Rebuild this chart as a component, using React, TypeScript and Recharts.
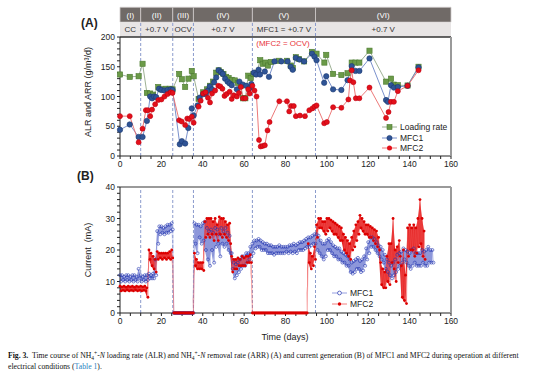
import {
  Area,
  ComposedChart,
  Line,
  ReferenceArea,
  ReferenceLine,
  XAxis,
  YAxis,
} from "recharts";

const INK = "#222222";
const FRAME = "#9a9a9a";
const DASH = "#8b9bcc";
const HEAD_DARK = "#706a67";
const HEAD_LIGHT = "#e8e5e5";

const LR_LINE = "#93a889";
const LR_FILL = "#6b9a48";
const LR_EDGE = "#4a7a2e";
const M1_LINE = "#6b84c6";
const M1_FILL = "#2f5496";
const M1_EDGE = "#1c3a72";
const M2_LINE = "#ea6a6a";
const M2_FILL = "#e3101a";
const B1_LINE = "#8a94dc";
const B1_EDGE = "#2436b0";
const B2_FILL = "#dc0000";

// operating phases
const PHASE_START = [0, 10, 25.5, 35.5, 64, 94.5];
const PHASE_END = [10, 25.5, 35.5, 64, 94.5, 160];
const PHASE_NAMES = ["(I)", "(II)", "(III)", "(IV)", "(V)", "(VI)"];
const PHASE_MODES = ["CC", "+0.7 V", "OCV", "+0.7 V", "MFC1 = +0.7 V", "+0.7 V"];
const SWITCH_DAYS = [10, 25.5, 35.5, 64, 94.5];

const X_TICKS = [
  0, 5, 10, 15, 20, 25, 30, 35, 40, 45, 50, 55, 60, 65, 70, 75, 80, 85, 90, 95,
  100, 105, 110, 115, 120, 125, 130, 135, 140, 145, 150, 155, 160,
];
const Y_TICKS_A = [
  0, 10, 20, 30, 40, 50, 60, 70, 80, 90, 100, 110, 120, 130, 140, 150, 160, 170,
  180, 190, 200,
];
const Y_TICKS_B = [
  0, 2, 4, 6, 8, 10, 12, 14, 16, 18, 20, 22, 24, 26, 28, 30, 32, 34, 36, 38, 40,
];

// (A) loading rate
const LR_DAYS = [
  0, 4.7, 9, 10.9, 13, 14.6, 16, 18.5, 20, 22, 24, 25.4, 28.6, 29.9, 31.5, 33.1,
  34.7, 35.6, 38, 40.2, 42, 43.5, 45, 46.5, 47.7, 48.8, 50, 51.3, 52.5, 54, 55.5,
  57, 58.5, 59.4, 60.6, 62, 63.2, 64.5, 66, 67.8, 69, 70.3, 71.5, 73, 76.7, 80.7,
  82.5, 83.5, 85, 86.5, 89, 92.8, 95, 98.8, 99.7, 103, 107, 110, 112, 113.8,
  115.7, 120.6, 128.6, 131, 132.4, 134.3, 139, 144.3,
];
const LR_VALUES = [
  137, 133, 134, 155, 106, 105, 103, 116, 112, 113, 113, 112, 138, 129, 116, 130,
  143, 134, 96, 107, 112, 118, 125, 140, 144, 141, 138, 133, 131, 128, 127, 123,
  118, 97, 97, 135, 131, 138, 140, 161, 155, 157, 152, 158, 160, 160, 152, 148,
  166, 163, 159, 175, 172, 157, 170, 138, 136, 139, 157, 157, 157, 177, 125, 130,
  120, 119, 118.5, 150,
];

// (A) MFC1 removal rate
const ARR1_DAYS = [
  0, 4.7, 9, 10.9, 13, 14.6, 15.5, 16.5, 17.5, 18.9, 20, 21.5, 23, 24.5, 25.4,
  28.9, 29.9, 31.5, 33, 34.7, 35.6, 37.5, 38.5, 40.2, 41.5, 42.5, 43.4, 44.5,
  45.5, 46.5, 47.7, 48.8, 49.7, 50.8, 52, 53, 54, 56.5, 57.7, 59.4, 61, 62.6,
  63.5, 64.7, 65.8, 67, 67.7, 70, 72, 74.7, 78, 81, 82.5, 83.5, 85, 86.8, 89,
  92.8, 94, 95, 98.7, 99.7, 103, 107, 110, 112, 113.8, 115.7, 120.6, 128.6,
  129.5, 131, 132.4, 134.3, 139, 144.3,
];
const ARR1_VALUES = [
  44, 53, 32, 32, 59, 100, 97, 100, 99, 113, 111, 110, 111, 112, 111, 19.7, 25,
  21, 47, 80, 68, 85, 98, 104, 104, 110, 117, 112, 124, 132, 144, 141, 138, 130,
  125, 122, 119, 112, 125, 120, 118, 114, 121, 140, 137, 145, 137, 142, 133, 159,
  159, 159, 150, 145, 165, 162, 159, 172, 167, 161, 123, 134, 112, 111, 127.5,
  151, 143, 143, 164, 94, 91, 119, 115, 116, 118, 149,
];

// (A) MFC2 removal rate
const ARR2_DAYS = [
  0, 4.7, 9, 10.9, 12.5, 13.5, 14.6, 15.5, 17, 18.5, 20, 21.5, 23, 24.5, 25.4,
  28.6, 29.8, 31.5, 32.5, 33.5, 34.7, 35.6, 38, 39, 40.2, 41.3, 42.5, 43.5, 44.5,
  46, 47.5, 48.5, 49.5, 50.5, 51.5, 53, 54, 55, 56.5, 57.5, 58.4, 59.4, 60.6, 62,
  62.7, 64, 65, 66, 67.2, 68, 69, 70, 71.3, 72.3, 77, 80.7, 81.8, 82.7, 84, 85,
  87, 89.4, 91.5, 93, 94, 95, 98.7, 100, 103, 107, 110.4, 111.2, 112, 112.8, 114,
  115.7, 120.6, 128.6, 129.8, 131, 132.4, 134.3, 139, 144.3,
];
const ARR2_VALUES = [
  67, 67, 23, 46, 77, 77, 67, 78, 87, 94, 95, 100, 104, 107, 106, 60, 58, 52, 63,
  62, 66, 56, 83, 93, 105, 107, 98, 90, 105, 110, 118, 117, 113, 101, 104, 108,
  96, 102, 100, 106, 116, 97, 97, 112, 105, 118, 110, 100, 27, 16, 17, 18, 43,
  57, 92, 92, 75, 84, 84, 67, 68, 67, 77, 80, 83, 85, 55, 57, 82, 81, 95, 127,
  144, 124, 97, 97, 115, 64, 74, 91, 91, 109, 118, 144,
];

// (B) daily current envelope (mA), day 0..151
const I1_LO = [
  10, 10.5, 10, 10.5, 10, 10.5, 10, 10.5, 10, 11, 10, 10.5, 10, 10.5, 11, 11, 11,
  12, 22, 25, 25.5, 25, 25.5, 25.5, 26, 26.5, 0, 0, 0, 0, 0, 0, 0, 0, 0, 0, 22,
  19, 24, 22, 23, 20, 17, 15, 20, 16, 21, 22, 18, 22, 21, 22, 20, 19, 14, 11, 12,
  13, 14, 15, 15, 16, 17, 18, 19, 20.5, 21, 21, 20, 20, 20, 19, 19, 19, 18.5, 19,
  19, 19, 19, 19, 19.5, 19, 19.5, 19, 19.5, 19, 20, 20, 20, 20.5, 21, 21, 21.5,
  22, 22, 20, 19, 18, 17, 18, 20, 20, 19, 18, 18, 17, 17, 16, 16, 15, 15, 13,
  12.5, 13, 14, 14, 13, 13.5, 15, 17, 19, 21, 21, 20, 19, 18, 17, 16, 14, 13, 12,
  11, 12, 13, 14, 15, 16, 17, 16, 15, 14, 15, 16, 15, 15, 15, 16, 15, 15, 16, 16,
  16,
];
const I1_HI = [
  12, 12, 11.5, 12, 12, 11.5, 12, 12, 11.5, 14, 12, 11.5, 12, 12, 12.5, 12, 12.5,
  17, 26, 27.5, 27.5, 27, 27.5, 28, 28, 28.5, 0, 0, 0, 0, 0, 0, 0, 0, 0, 0, 28.5,
  28, 28, 27.5, 28.5, 29, 27, 26, 26.5, 25.5, 27, 26.5, 25, 27, 26, 27, 25.5,
  24.5, 19, 16, 15.5, 16, 17, 18, 18, 19, 19, 21, 22, 23, 23, 23.5, 23, 22.5, 22,
  22, 21.5, 21.5, 21, 21, 21, 21.5, 21, 21, 21, 21, 21.5, 21.5, 22, 21.5, 22,
  22.5, 22.5, 23, 23.5, 24, 24, 24.5, 25, 25, 24.5, 23, 22, 22, 23, 23.5, 22.5,
  21.5, 21, 20.5, 20.5, 19.5, 19, 18.5, 18, 17, 16, 16.5, 17, 17.5, 16.5, 17, 18,
  20.5, 22.5, 24, 24, 23.5, 22.5, 21.5, 21, 20, 18.5, 17, 16, 15, 16, 17, 18.5,
  19, 19.5, 20.5, 20, 19.5, 19, 20, 20.5, 19, 19, 19, 20, 19.5, 20, 21, 20, 20,
];
const I2_LO = [
  7, 7.2, 7, 7.3, 7, 7.2, 7, 7.3, 7, 7.2, 7, 7.2, 7, 5, 17, 15, 14, 13, 17, 17.5,
  17, 17.5, 17, 17.5, 17, 17.5, 0, 0, 0, 0, 0, 0, 0, 0, 0, 0, 15, 14, 14, 14,
  13.5, 24, 25, 24, 25, 23, 25, 23, 25, 24, 25, 24, 23, 22, 13, 14, 14, 15, 15,
  15, 15, 16, 16, 16, 0, 0, 0, 0, 0, 0, 0, 0, 0, 0, 0, 0, 0, 0, 0, 0, 0, 0, 0, 0,
  0, 0, 0, 0, 0, 0, 0, 16, 14, 15, 17, 24, 27, 27, 26, 25, 26, 27, 26, 25, 25,
  24, 23, 23, 20, 19, 18, 17, 20, 21, 23, 25, 27, 26, 25, 25, 24, 24, 23, 22, 21,
  20, 9, 8, 8, 10, 9, 16, 14, 10, 16, 18, 5, 4, 3, 18, 20, 20, 18, 19, 21, 22,
  18, 17,
];
const I2_HI = [
  8.5, 8.3, 8.5, 8.2, 8.5, 8.3, 8.5, 8.2, 8.5, 8.3, 8.5, 8.3, 8.5, 8, 20, 19, 18,
  17, 19.5, 19, 19, 19, 19, 19, 19.5, 20, 0, 0, 0, 0, 0, 0, 0, 0, 0, 0, 19, 17,
  16, 16, 16, 29, 30, 30, 30, 29, 30, 28, 30.5, 30, 30, 29, 28, 28.5, 18, 17, 17,
  17.5, 17, 18, 17.5, 18, 18, 18.5, 0, 0, 0, 0, 0, 0, 0, 0, 0, 0, 0, 0, 0, 0, 0,
  0, 0, 0, 0, 0, 0, 0, 0, 0, 0, 0, 0, 22, 19, 18, 21, 28, 30, 30, 29, 29, 30, 30,
  29.5, 29, 28.5, 28, 27.5, 27, 25, 24, 23, 22, 24, 26, 28, 29, 31, 30, 29, 28,
  28, 27.5, 27, 26.5, 26, 24, 16, 14, 13, 18, 22, 22, 30, 20, 21, 23, 15, 20, 12,
  27, 28, 27, 28, 27, 30, 36, 30, 26,
];

type Pt = { day: number; v: number };

const pairUp = (days: number[], values: number[]): Pt[] =>
  days.map((d, i) => ({ day: d, v: values[i] }));

// two readings per day: upper then lower edge of the noisy band
const zigzag = (lo: number[], hi: number[]): Pt[] =>
  hi.flatMap((h, i) => [
    { day: i, v: h },
    { day: i + 0.5, v: lo[i] },
  ]);

const envelope = (lo: number[], hi: number[]) =>
  hi.map((h, i) => ({ day: i, range: [lo[i], h] }));

const lrData = pairUp(LR_DAYS, LR_VALUES);
const arr1Data = pairUp(ARR1_DAYS, ARR1_VALUES);
const arr2Data = pairUp(ARR2_DAYS, ARR2_VALUES);
const i1Data = zigzag(I1_LO, I1_HI);
const i2Data = zigzag(I2_LO, I2_HI);
const i1Band = envelope(I1_LO, I1_HI);
const i2Band = envelope(I2_LO, I2_HI);

const tickStyle = { fill: INK, fontSize: 8.5 };
const xLabel = (v: number) => (v % 20 === 0 ? String(v) : "");
const yLabelA = (v: number) => (v % 50 === 0 ? String(v) : "");
const yLabelB = (v: number) => (v % 10 === 0 ? String(v) : "");

const squareDot = (p: any) =>
  p.cx == null ? (
    <g key={`s${p.index}`} />
  ) : (
    <rect
      key={`s${p.index}`}
      x={p.cx - 2.6}
      y={p.cy - 2.6}
      width={5.2}
      height={5.2}
      fill={LR_FILL}
      stroke={LR_EDGE}
      strokeWidth={0.6}
    />
  );

const circleDot = (fill: string, edge: string, r: number) => (p: any) =>
  p.cx == null ? (
    <g key={`c${p.index}`} />
  ) : (
    <circle
      key={`c${p.index}`}
      cx={p.cx}
      cy={p.cy}
      r={r}
      fill={fill}
      stroke={edge}
      strokeWidth={0.6}
    />
  );

const openDot = (p: any) =>
  p.cx == null ? (
    <g key={`o${p.index}`} />
  ) : (
    <circle
      key={`o${p.index}`}
      cx={p.cx}
      cy={p.cy}
      r={1.5}
      fill="none"
      stroke={B1_EDGE}
      strokeWidth={0.6}
    />
  );

const smallDot = (p: any) =>
  p.cx == null ? (
    <g key={`r${p.index}`} />
  ) : (
    <circle key={`r${p.index}`} cx={p.cx} cy={p.cy} r={1.4} fill={B2_FILL} />
  );

function LegendRow({
  color,
  marker,
  label,
}: {
  color: string;
  marker: React.ReactNode;
  label: string;
}) {
  return (
    <div style={{ display: "flex", alignItems: "center", height: 10.5 }}>
      <svg width={16} height={8} style={{ marginRight: 2 }}>
        <line x1={0} y1={4} x2={15} y2={4} stroke={color} strokeWidth={0.9} />
        {marker}
      </svg>
      <span>{label}</span>
    </div>
  );
}

function PanelA() {
  return (
    <ComposedChart
      width={554}
      height={176}
      margin={{ top: 36, right: 102, bottom: 0, left: 90 }}
    >
      <XAxis
        type="number"
        dataKey="day"
        domain={[0, 160]}
        ticks={X_TICKS}
        interval={0}
        tickFormatter={xLabel}
        tick={tickStyle}
        tickSize={3}
        axisLine={{ stroke: INK }}
        tickLine={{ stroke: INK }}
        height={20}
      />
      <XAxis
        xAxisId="top"
        orientation="top"
        type="number"
        domain={[0, 160]}
        tick={false}
        tickLine={false}
        axisLine={{ stroke: "#333", strokeWidth: 1.5 }}
        height={1}
      />
      <YAxis
        type="number"
        domain={[0, 200]}
        ticks={Y_TICKS_A}
        interval={0}
        tickFormatter={yLabelA}
        tick={tickStyle}
        tickSize={3}
        axisLine={{ stroke: INK }}
        tickLine={{ stroke: INK }}
        width={30}
      />
      <YAxis
        yAxisId="right"
        orientation="right"
        domain={[0, 200]}
        tick={false}
        tickLine={false}
        axisLine={{ stroke: FRAME, strokeWidth: 2 }}
        width={1}
      />

      {PHASE_NAMES.map((name, i) => (
        <ReferenceArea
          key={`hd${i}`}
          x1={PHASE_START[i]}
          x2={PHASE_END[i]}
          y1={225}
          y2={250}
          ifOverflow="visible"
          fill={HEAD_DARK}
          fillOpacity={1}
          stroke="#cfcaca"
          strokeWidth={0.8}
          label={{ value: name, position: "center", fill: "#fff", fontSize: 8 }}
        />
      ))}
      {PHASE_MODES.map((mode, i) => (
        <ReferenceArea
          key={`hl${i}`}
          x1={PHASE_START[i]}
          x2={PHASE_END[i]}
          y1={200}
          y2={225}
          ifOverflow="visible"
          fill={HEAD_LIGHT}
          fillOpacity={1}
          label={{ value: mode, position: "center", fill: "#333", fontSize: 8 }}
        />
      ))}
      {SWITCH_DAYS.map((d) => (
        <ReferenceLine
          key={`da${d}`}
          segment={[
            { x: d, y: 0 },
            { x: d, y: 225 },
          ]}
          ifOverflow="visible"
          stroke={DASH}
          strokeDasharray="3 2"
        />
      ))}

      <Line
        data={lrData}
        dataKey="v"
        stroke={LR_LINE}
        strokeWidth={0.9}
        dot={squareDot}
        activeDot={false}
        isAnimationActive={false}
      />
      <Line
        data={arr1Data}
        dataKey="v"
        stroke={M1_LINE}
        strokeWidth={0.9}
        dot={circleDot(M1_FILL, M1_EDGE, 2.7)}
        activeDot={false}
        isAnimationActive={false}
      />
      <Line
        data={arr2Data}
        dataKey="v"
        stroke={M2_LINE}
        strokeWidth={0.9}
        dot={circleDot(M2_FILL, "#c00010", 2.5)}
        activeDot={false}
        isAnimationActive={false}
      />
    </ComposedChart>
  );
}

function PanelB() {
  return (
    <ComposedChart
      width={554}
      height={157}
      margin={{ top: 10, right: 102, bottom: 0, left: 90 }}
    >
      <XAxis
        type="number"
        dataKey="day"
        domain={[0, 160]}
        ticks={X_TICKS}
        interval={0}
        tickFormatter={xLabel}
        tick={tickStyle}
        tickSize={3}
        axisLine={{ stroke: INK }}
        tickLine={{ stroke: INK }}
        height={20}
      />
      <XAxis
        xAxisId="top"
        orientation="top"
        type="number"
        domain={[0, 160]}
        tick={false}
        tickLine={false}
        axisLine={{ stroke: FRAME, strokeWidth: 2 }}
        height={1}
      />
      <YAxis
        type="number"
        domain={[0, 40]}
        ticks={Y_TICKS_B}
        interval={0}
        tickFormatter={yLabelB}
        tick={tickStyle}
        tickSize={3}
        axisLine={{ stroke: INK }}
        tickLine={{ stroke: INK }}
        width={30}
      />
      <YAxis
        yAxisId="right"
        orientation="right"
        domain={[0, 40]}
        tick={false}
        tickLine={false}
        axisLine={{ stroke: FRAME, strokeWidth: 2 }}
        width={1}
      />
      {SWITCH_DAYS.map((d) => (
        <ReferenceLine key={`db${d}`} x={d} stroke={DASH} strokeDasharray="3 2" />
      ))}
      <Area
        data={i1Band}
        dataKey="range"
        type="linear"
        stroke="none"
        fill="#3346b8"
        fillOpacity={0.55}
        activeDot={false}
        isAnimationActive={false}
      />
      <Line
        data={i1Data}
        dataKey="v"
        stroke={B1_LINE}
        strokeWidth={0.5}
        dot={openDot}
        activeDot={false}
        isAnimationActive={false}
      />
      <Area
        data={i2Band}
        dataKey="range"
        type="linear"
        stroke="none"
        fill="#e00000"
        fillOpacity={0.85}
        activeDot={false}
        isAnimationActive={false}
      />
      <Line
        data={i2Data}
        dataKey="v"
        stroke="#f05050"
        strokeWidth={0.5}
        dot={smallDot}
        activeDot={false}
        isAnimationActive={false}
      />
    </ComposedChart>
  );
}

const SUB = { fontSize: 5.5, verticalAlign: "-1.5px", lineHeight: 0 };
const SUP = { fontSize: 5.5, verticalAlign: "3px", lineHeight: 0 };

export default function App() {
  return (
    <div
      style={{
        position: "absolute",
        left: 0,
        top: 0,
        width: 554,
        height: 376,
        background: "#fff",
        overflow: "hidden",
        fontFamily: '"Liberation Sans", Arial, sans-serif',
        color: INK,
      }}
    >
      <div style={{ position: "absolute", left: 0, top: 0 }}>
        <PanelA />
      </div>
      <div style={{ position: "absolute", left: 0, top: 176 }}>
        <PanelB />
      </div>

      <div style={{ position: "absolute", left: 81, top: 16, fontSize: 12, fontWeight: "bold" }}>
        (A)
      </div>
      <div style={{ position: "absolute", left: 77, top: 169, fontSize: 12, fontWeight: "bold" }}>
        (B)
      </div>

      <div
        style={{
          position: "absolute",
          left: 241,
          top: 39,
          width: 84,
          textAlign: "center",
          fontSize: 8,
          color: "#e8343a",
        }}
      >
        (MFC2 = OCV)
      </div>

      <div
        style={{
          position: "absolute",
          left: 88 - 60,
          top: 92 - 6,
          width: 120,
          textAlign: "center",
          fontSize: 9,
          transform: "rotate(-90deg)",
          lineHeight: "12px",
        }}
      >
        ALR and ARR (g/m³/d)
      </div>
      <div
        style={{
          position: "absolute",
          left: 88 - 40,
          top: 250 - 6,
          width: 80,
          textAlign: "center",
          fontSize: 9,
          transform: "rotate(-90deg)",
          lineHeight: "12px",
        }}
      >
        Current&nbsp; (mA)
      </div>
      <div
        style={{
          position: "absolute",
          left: 245,
          top: 332,
          width: 80,
          textAlign: "center",
          fontSize: 9,
        }}
      >
        Time (days)
      </div>

      <div style={{ position: "absolute", left: 382, top: 122, fontSize: 8.5 }}>
        <LegendRow
          color={LR_LINE}
          label="Loading rate"
          marker={
            <rect x={5} y={1.5} width={5} height={5} fill={LR_FILL} stroke={LR_EDGE} strokeWidth={0.6} />
          }
        />
        <LegendRow
          color={M1_LINE}
          label="MFC1"
          marker={<circle cx={7.5} cy={4} r={2.6} fill={M1_FILL} stroke={M1_EDGE} strokeWidth={0.6} />}
        />
        <LegendRow
          color={M2_LINE}
          label="MFC2"
          marker={<circle cx={7.5} cy={4} r={2.5} fill={M2_FILL} />}
        />
      </div>

      <div style={{ position: "absolute", left: 332, top: 288, fontSize: 8.5 }}>
        <LegendRow
          color={B1_LINE}
          label="MFC1"
          marker={<circle cx={7.5} cy={4} r={1.9} fill="#fff" stroke={B1_EDGE} strokeWidth={0.7} />}
        />
        <LegendRow
          color="#f07070"
          label="MFC2"
          marker={<circle cx={7.5} cy={4} r={1.7} fill={B2_FILL} />}
        />
      </div>

      <div
        style={{
          position: "absolute",
          left: 8,
          top: 351,
          width: 546,
          fontFamily: '"Liberation Serif", "Times New Roman", serif',
          fontSize: 7.7,
          lineHeight: "10.5px",
          color: "#111",
          whiteSpace: "nowrap",
        }}
      >
        <div>
          <b>Fig. 3.</b>&nbsp; Time course of NH<span style={SUB}>4</span>
          <span style={SUP}>+</span>-<i>N</i> loading rate (ALR) and NH<span style={SUB}>4</span>
          <span style={SUP}>+</span>-<i>N</i> removal rate (ARR) (A) and current generation (B) of
          MFC1 and MFC2 during operation at different
        </div>
        <div>
          electrical conditions (<span style={{ color: "#2a7fc0" }}>Table 1</span>).
        </div>
      </div>
    </div>
  );
}
